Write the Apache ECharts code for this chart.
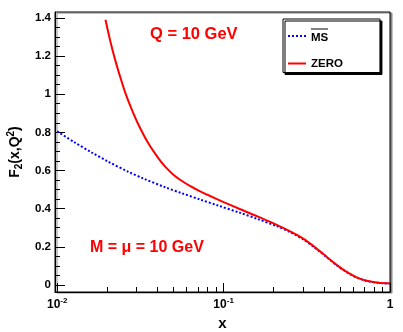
<!DOCTYPE html>
<html>
<head>
<meta charset="utf-8">
<style>
  html, body { margin: 0; padding: 0; background: #fff; }
  #chart { width: 403px; height: 332px; }
</style>
<script src="https://cdn.jsdelivr.net/npm/echarts@6/dist/echarts.min.js"></script>
</head>
<body>
<div id="chart"></div>
<script>
// 数据：x 为真实值（对数轴），y 为 F2
const msX = [0.01, 0.0126, 0.01615, 0.02, 0.0268, 0.033, 0.0446, 0.056, 0.0723, 0.0914, 0.1256, 0.16, 0.209, 0.25, 0.301, 0.35, 0.417, 0.48, 0.549, 0.63, 0.724, 0.85, 1.0];
const msY = [0.805, 0.750, 0.694, 0.649, 0.593, 0.558, 0.512, 0.481, 0.448, 0.418, 0.378, 0.346, 0.308, 0.278, 0.239, 0.198, 0.145, 0.102, 0.067, 0.039, 0.021, 0.011, 0.0075];

const zeroX = [0.0195, 0.021, 0.0223, 0.024, 0.0256, 0.028, 0.0308, 0.035, 0.0405, 0.0447, 0.0501, 0.0562, 0.0631, 0.0708, 0.0794, 0.1, 0.1259, 0.1585, 0.1995, 0.2512, 0.301, 0.35, 0.417, 0.48, 0.549, 0.63, 0.724, 0.85, 1.0];
const zeroY = [1.39, 1.267, 1.18, 1.086, 1.01, 0.922, 0.84, 0.748, 0.665, 0.619, 0.577, 0.545, 0.518, 0.495, 0.474, 0.4345, 0.397, 0.361, 0.323, 0.281, 0.243, 0.201, 0.147, 0.104, 0.068, 0.040, 0.022, 0.012, 0.0085];

// 刻度
const yMajor = [0, 0.2, 0.4, 0.6, 0.8, 1.0, 1.2, 1.4];
const yMinor = [0.05, 0.1, 0.15, 0.25, 0.3, 0.35, 0.45, 0.5, 0.55, 0.65, 0.7, 0.75, 0.85, 0.9, 0.95, 1.05, 1.1, 1.15, 1.25, 1.3, 1.35];
const xMajor = [0.01, 0.1, 1];
const xMinor = [0.02, 0.03, 0.04, 0.05, 0.06, 0.07, 0.08, 0.09, 0.2, 0.3, 0.4, 0.5, 0.6, 0.7, 0.8, 0.9];

const FONT = "'Liberation Sans', Arial, Helvetica, sans-serif";
const X_MIN = Math.log10(0.0097), Y_MIN = -0.037, Y_MAX = 1.431;
const lg = v => Math.log10(v);
const pairs = (xs, ys) => xs.map((x, i) => [lg(x), ys[i]]);

const chart = echarts.init(document.getElementById('chart'), null, { renderer: 'canvas' });

const tick = (len, vals) => ({ show: true, inside: true, length: len, customValues: vals, lineStyle: { color: '#000', width: 1 } });
const hidden = { axisLine: { show: false, onZero: false }, axisLabel: { show: false }, splitLine: { show: false } };
const line = { show: true, onZero: false, lineStyle: { color: '#000', width: 1 } };

const option = {
    backgroundColor: '#fff',
    animation: false,
    grid: {
        left: 55, right: 13, top: 12, bottom: 40,
        show: true,
        backgroundColor: '#fff',
        borderColor: '#000',
        borderWidth: 1,
        shadowColor: '#888',
        shadowOffsetX: 2,
        shadowOffsetY: 1,
        shadowBlur: 0,
        containLabel: false,
        outerBoundsMode: 'none'
    },
    legend: {
        orient: 'vertical',
        left: 283, top: 19,
        data: ['MS', 'ZERO'],
        itemWidth: 18, itemHeight: 14, itemGap: 14,
        padding: [4, 37, 3, 4],
        backgroundColor: '#fff',
        borderColor: '#000', borderWidth: 1, borderRadius: 0,
        shadowColor: '#000', shadowOffsetX: 2, shadowOffsetY: 2, shadowBlur: 0,
        itemStyle: { color: 'rgba(0,0,0,0)', borderWidth: 0, opacity: 0 },
        // MS 上方的横线
        formatter: name => name === 'MS' ? '{bar| }\n{t|MS}' : '{t|' + name + '}',
        textStyle: {
            rich: {
                t: { fontFamily: FONT, fontWeight: 'bold', fontSize: 11.5, lineHeight: 14, color: '#000' },
                bar: { width: 17, height: 1, lineHeight: 3, backgroundColor: '#000' }
            }
        }
    },
    xAxis: [{
        type: 'value',
        min: X_MIN, max: 0,
        position: 'bottom',
        axisLine: line,
        axisTick: tick(9, xMajor.map(lg)),
        splitLine: { show: false },
        axisLabel: {
            customValues: xMajor.map(lg),
            margin: 5,
            formatter: v => {
                const e = Math.round(v);
                return e === 0 ? '{b|1}' : '{b|10}{sup|' + e + '}';
            },
            rich: {
                b: { fontFamily: FONT, fontWeight: 'bold', fontSize: 12, lineHeight: 16, color: '#000' },
                sup: { fontFamily: FONT, fontWeight: 'bold', fontSize: 8, lineHeight: 8, verticalAlign: 'top', color: '#000' }
            }
        },
        name: 'x',
        nameLocation: 'middle',
        nameGap: 19,
        nameTextStyle: { fontFamily: FONT, fontWeight: 'bold', fontSize: 15, color: '#000' }
    }, Object.assign({
        // x 次刻度
        type: 'value', min: X_MIN, max: 0, position: 'bottom',
        axisTick: tick(5, xMinor.map(lg))
    }, hidden)],
    yAxis: [{
        type: 'value',
        min: Y_MIN, max: Y_MAX,
        position: 'left',
        axisLine: line,
        axisTick: tick(10, yMajor),
        splitLine: { show: false },
        axisLabel: {
            customValues: yMajor,
            margin: 4,
            formatter: v => String(Math.round(v * 10) / 10),
            fontFamily: FONT, fontWeight: 'bold', fontSize: 11.5, color: '#000'
        },
        name: '{m|F}{sub|2}{m|(x,Q}{sup|2}{m|)}',
        nameLocation: 'middle',
        nameRotate: 90,
        nameGap: 27,
        nameTextStyle: {
            rich: {
                m: { fontFamily: FONT, fontWeight: 'bold', fontSize: 14, lineHeight: 18, color: '#000' },
                sub: { fontFamily: FONT, fontWeight: 'bold', fontSize: 10, lineHeight: 12, verticalAlign: 'bottom', color: '#000' },
                sup: { fontFamily: FONT, fontWeight: 'bold', fontSize: 10, lineHeight: 10, verticalAlign: 'top', color: '#000' }
            }
        }
    }, Object.assign({
        // y 次刻度
        type: 'value', min: Y_MIN, max: Y_MAX, position: 'left',
        axisTick: tick(5, yMinor)
    }, hidden)],
    series: [{
        name: 'MS',
        type: 'line',
        data: pairs(msX, msY),
        symbol: 'none',
        smooth: 0.3,
        lineStyle: { color: '#0000ff', width: 2, type: [2, 2] },
        itemStyle: { color: '#0000ff' },
        z: 2
    }, {
        name: 'ZERO',
        type: 'line',
        data: pairs(zeroX, zeroY),
        symbol: 'none',
        smooth: 0.3,
        lineStyle: { color: '#ff0000', width: 2 },
        itemStyle: { color: '#ff0000' },
        z: 3
    }],
    graphic: [{
        type: 'text', x: 150, y: 34,
        style: { text: 'Q = 10 GeV', fill: '#ff0000', font: 'bold 16.5px ' + FONT, verticalAlign: 'middle' }
    }, {
        type: 'text', x: 90, y: 248,
        style: { text: 'M = \u03bc = 10 GeV', fill: '#ff0000', font: 'bold 16px ' + FONT, verticalAlign: 'middle' }
    }]
};

chart.setOption(option);
</script>
</body>
</html>
